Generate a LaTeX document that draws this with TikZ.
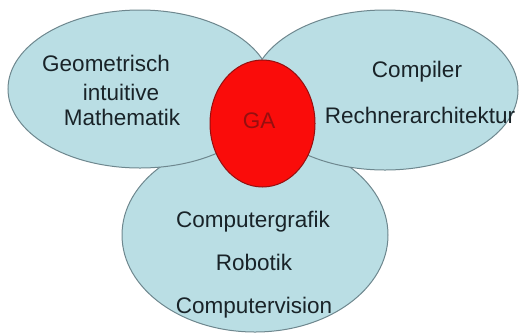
\documentclass[tikz,border=0pt]{standalone}
\usepackage{fontspec}
\setmainfont{Liberation Sans}
\usetikzlibrary{shapes.geometric}
\definecolor{blobfill}{RGB}{186,222,228}
\definecolor{blobline}{RGB}{110,135,142}
\definecolor{gafill}{RGB}{250,12,10}
\definecolor{gatext}{RGB}{150,15,15}
\definecolor{txt}{RGB}{25,35,40}

\begin{document}
\begin{tikzpicture}[x=1pt,y=-1pt,
  blob/.style={ellipse,draw=blobline,fill=blobfill,line width=1pt,inner sep=0pt},
  lbl/.style={anchor=base,inner sep=0pt,text=txt,font=\fontsize{22.5}{26}\selectfont}]
  \useasboundingbox (0,0) rectangle (521,333);
  % the three fields
  \node[blob,minimum width=266pt,minimum height=194pt] (anw) at (255,235) {};
  \node[blob,minimum width=264pt,minimum height=158pt] (mat) at (140,89) {};
  \node[blob,minimum width=266pt,minimum height=160pt] (inf) at (385,90) {};
  % GA in the middle
  \node[ellipse,draw=gatext,fill=gafill,line width=1pt,inner sep=0pt,
        minimum width=105pt,minimum height=127pt] (ga) at (262.5,123.5) {};
  \node[lbl,text=gatext] (galbl) at (259,128) {GA};
  % texts
  \node[lbl] (geo) at (106,71) {Geometrisch};
  \node[lbl] (int) at (121,100) {intuitive};
  \node[lbl] (mth) at (122,125) {Mathematik};
  \node[lbl] (cmp) at (417,77) {Compiler};
  \node[lbl] (rec) at (420,123) {Rechnerarchitektur};
  \node[lbl] (cgr) at (253,227) {Computergrafik};
  \node[lbl] (rob) at (254,270) {Robotik};
  \node[lbl] (cvi) at (254,313) {Computervision};
\end{tikzpicture}
\end{document}
